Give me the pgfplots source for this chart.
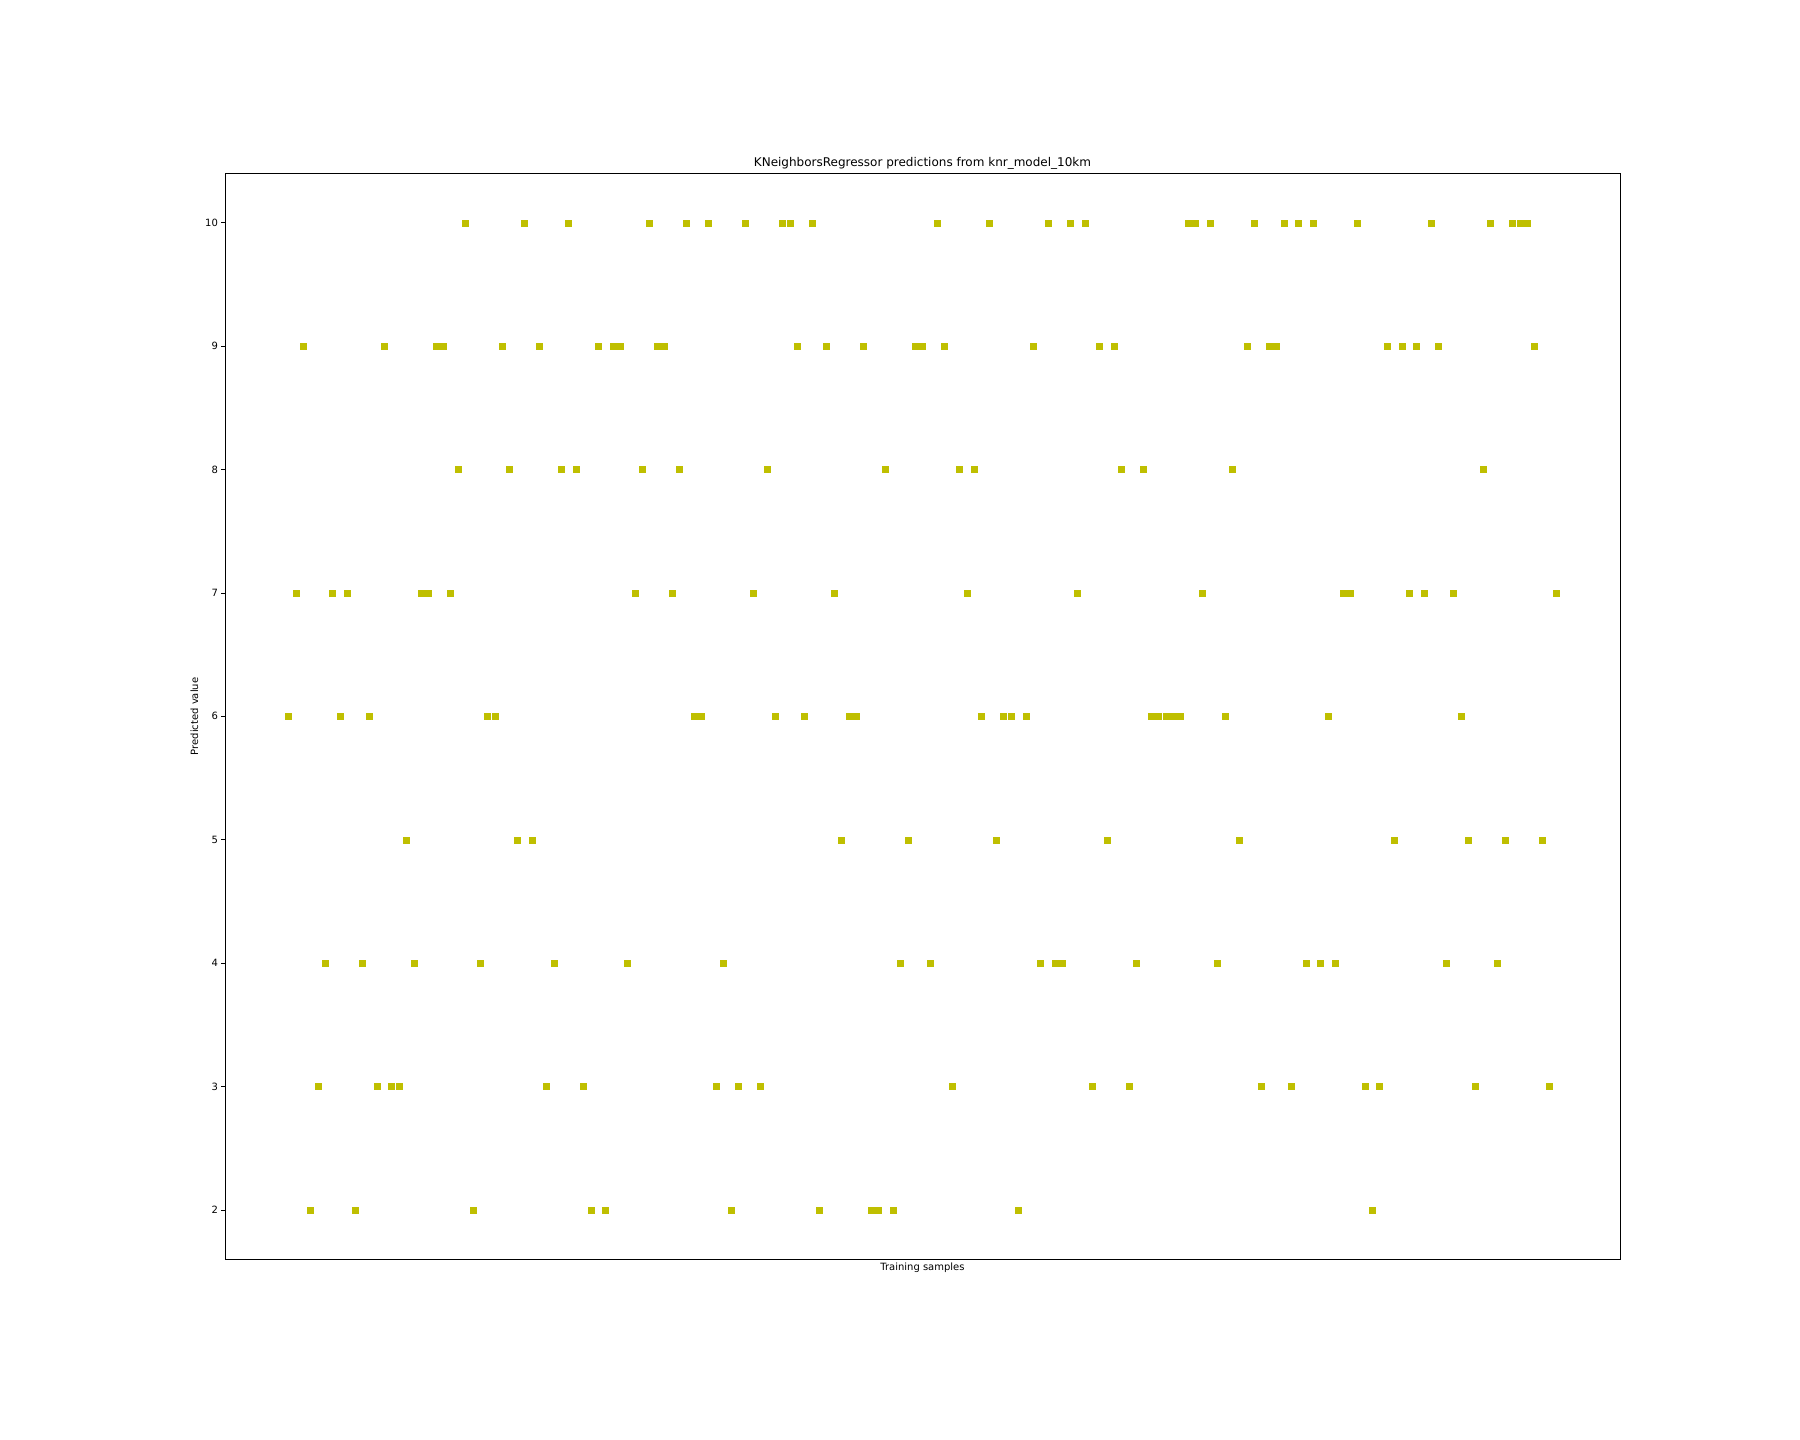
\documentclass[border=0pt]{standalone}
\usepackage{pgfplots}
\pgfplotsset{compat=1.18}
\usepackage{fontspec}
\setmainfont{DejaVu Sans}
\definecolor{mply}{rgb}{0.75,0.75,0}
\begin{document}
\begin{tikzpicture}
\path[use as bounding box] (-225pt,-180.7pt) rectangle (1575pt,1259.3pt);
\begin{axis}[
  at={(0,0)}, anchor=south west,
  scale only axis,
  width=1395pt, height=1086pt,
  xmin=-8.6, xmax=180.6, ymin=1.6, ymax=10.4,
  xtick=\empty,
  ytick={2,3,4,5,6,7,8,9,10},
  tick align=outside, major tick length=3.5pt,
  ytick pos=left,
  axis line style={line width=0.8pt},
  every tick/.style={black, line width=0.8pt},
  tick label style={font=\fontsize{10}{12}\selectfont},
  /pgf/number format/assume math mode=true,
  title={KNeighborsRegressor predictions from knr\_model\_10km},
  title style={font=\fontsize{12}{14}\selectfont, yshift=-5.5pt},
  xlabel={Training samples},
  ylabel={Predicted value},
  label style={font=\fontsize{10}{12}\selectfont},
  xlabel style={yshift=3pt},
]
\addplot[only marks, mark=square*, mark size=3pt, color=mply] table[x expr=\coordindex, y index=0] {
y
6
7
9
2
3
4
7
6
7
2
4
6
3
9
3
3
5
4
7
7
9
9
7
8
10
2
4
6
6
9
8
5
10
5
9
3
4
8
10
8
3
2
9
2
9
9
4
7
8
10
9
9
7
8
10
6
6
10
3
4
2
3
10
7
3
8
6
10
10
9
6
10
2
9
7
5
6
6
9
2
2
8
2
4
5
9
9
4
10
9
3
8
7
8
6
10
5
6
6
2
6
9
4
10
4
4
10
7
10
3
9
5
9
8
3
4
8
6
6
6
6
6
10
10
7
10
4
6
8
5
9
10
3
9
9
10
3
10
4
10
4
6
4
7
7
10
3
2
3
9
5
9
7
9
7
10
9
4
7
6
5
3
8
10
4
5
10
10
10
9
5
3
7
};
\end{axis}
\end{tikzpicture}
\end{document}
